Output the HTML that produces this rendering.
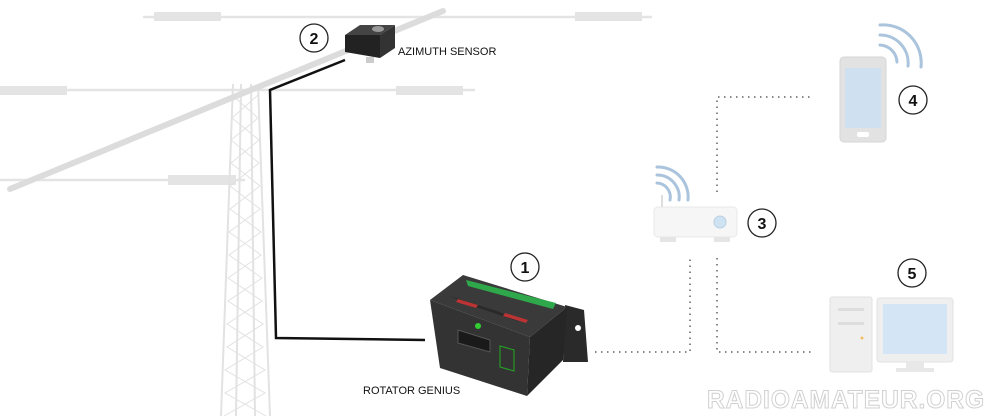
<!DOCTYPE html>
<html><head><meta charset="utf-8"><style>
html,body{margin:0;padding:0;background:#fff;}
svg{display:block;font-family:"Liberation Sans",sans-serif;}
</style></head><body>
<svg width="1000" height="416" viewBox="0 0 1000 416" xmlns="http://www.w3.org/2000/svg">
<!-- antenna elements -->
<g fill="#e4e4e4" stroke="#e4e4e4">
<line x1="143" y1="17" x2="652" y2="17" stroke-width="2.5"/>
<rect x="154" y="12" width="67" height="9" stroke="none"/>
<rect x="575" y="12" width="67" height="9" stroke="none"/>
<line x1="0" y1="90" x2="475" y2="90" stroke-width="2.5"/>
<rect x="0" y="86" width="67" height="9" stroke="none"/>
<rect x="396" y="86" width="67" height="9" stroke="none"/>
<line x1="0" y1="180" x2="245" y2="180" stroke-width="2.5"/>
<rect x="168" y="175" width="68" height="10" stroke="none"/>
</g>
<!-- tower -->
<g stroke="#e2e2e2" stroke-width="2" fill="none">
<line x1="233" y1="84" x2="221" y2="416"/>
<line x1="258" y1="84" x2="270" y2="416"/>
<line x1="241" y1="84" x2="236" y2="416"/>
<line x1="251" y1="84" x2="255" y2="416"/>
<path d="M232,95 L258,118 L231,140 L259,163 L230,186 L260,209 L229,232 L261,255 L228,278 L262,301 L227,324 L263,347 L225,370 L265,393 L224,416" stroke-width="1"/>
<path d="M258,95 L232,118 L259,140 L231,163 L260,186 L230,209 L261,232 L229,255 L262,278 L228,301 L263,324 L227,347 L265,370 L225,393 L266,416" stroke-width="1"/>
</g>
<!-- boom -->
<line x1="10" y1="189" x2="443" y2="11" stroke="#dcdcdc" stroke-width="6" stroke-linecap="round"/>
<!-- cable -->
<path d="M345,60 L270,90 L276,338 L425,340" fill="none" stroke="#111" stroke-width="2.5"/>
<!-- azimuth sensor -->
<polygon points="345,35 360,25 395,25 380,35" fill="#444"/>
<polygon points="345,35 380,35 380,58 345,52" fill="#222"/>
<polygon points="380,35 395,25 395,48 380,58" fill="#333"/>
<ellipse cx="378" cy="29" rx="6" ry="3" fill="#999"/>
<rect x="366" y="57" width="8" height="6" fill="#ccc"/>
<circle cx="314" cy="38" r="14" fill="#fff" stroke="#222" stroke-width="1.3"/>
<text x="314" y="44" font-size="16" font-weight="bold" text-anchor="middle" fill="#111">2</text>
<text x="398" y="55" font-size="11" fill="#111">AZIMUTH SENSOR</text>
<!-- rotator genius -->
<polygon points="565,305 584,310 588,362 563,362" fill="#2a2a2a"/>
<circle cx="578" cy="328" r="3" fill="#fff"/>
<polygon points="430,300 463,275 567,307 530,337" fill="#3a3a3a"/>
<polygon points="466,280 468,286 553,309 556,303" fill="#2ea84a"/>
<polygon points="450,296 500,312 520,322 470,305" fill="#2a2a2a"/>
<polygon points="458,299 478,305 476,308 456,302" fill="#b33"/>
<polygon points="505,313 528,320 526,323 503,316" fill="#b33"/>
<polygon points="430,300 530,337 527,396 440,368" fill="#333"/>
<polygon points="530,337 567,307 563,360 527,396" fill="#262626"/>
<circle cx="478" cy="326" r="3" fill="#3c3"/>
<polygon points="458,330 490,340 490,352 458,343" fill="#1a1a1a" stroke="#555"/>
<polygon points="500,346 514,350 514,371 500,367" fill="none" stroke="#2a2" stroke-width="1"/>
<circle cx="525" cy="267" r="14" fill="#fff" stroke="#222" stroke-width="1.3"/>
<text x="525" y="273" font-size="16" font-weight="bold" text-anchor="middle" fill="#111">1</text>
<text x="363" y="394" font-size="11" fill="#111">ROTATOR GENIUS</text>
<!-- dotted connectors -->
<g stroke="#888" stroke-width="2" stroke-dasharray="1.5,4.5" fill="none">
<path d="M717,192 L717,97 L812,97"/>
<path d="M595,352 L690,352 L690,258"/>
<path d="M717,258 L717,352 L812,352"/>
</g>
<!-- router -->
<g fill="none" stroke="#a9c4dc" stroke-width="3" stroke-linecap="round">
<path d="M657,183 A14,14 0 0 1 670,200"/>
<path d="M657,175 A22,22 0 0 1 679,200"/>
<path d="M657,167 A30,30 0 0 1 688,200"/>
</g>
<line x1="662" y1="195" x2="662" y2="207" stroke="#ddd" stroke-width="2"/>
<rect x="654" y="207" width="83" height="30" rx="4" fill="#f6f6f6" stroke="#e8e8e8"/>
<circle cx="720" cy="222" r="6" fill="#cfe2f2" stroke="#b9cfe3"/>
<rect x="660" y="237" width="16" height="5" fill="#e5e5e5"/>
<rect x="714" y="237" width="16" height="5" fill="#e5e5e5"/>
<circle cx="762" cy="223" r="14" fill="#fff" stroke="#222" stroke-width="1.3"/>
<text x="762" y="229" font-size="16" font-weight="bold" text-anchor="middle" fill="#111">3</text>
<!-- phone -->
<g fill="none" stroke="#a9c4dc" stroke-width="3" stroke-linecap="round">
<path d="M880,45 A18,18 0 0 1 897,62"/>
<path d="M880,35 A28,28 0 0 1 908,66"/>
<path d="M880,25 A38,38 0 0 1 921,67"/>
</g>
<rect x="840" y="57" width="46" height="85" rx="4" fill="#e2e2e2" stroke="#d5d5d5"/>
<rect x="845" y="68" width="36" height="60" fill="#cfe0f0"/>
<rect x="857" y="132" width="12" height="5" rx="2" fill="#fff"/>
<circle cx="913" cy="100" r="14" fill="#fff" stroke="#222" stroke-width="1.3"/>
<text x="913" y="106" font-size="16" font-weight="bold" text-anchor="middle" fill="#111">4</text>
<!-- computer -->
<rect x="830" y="297" width="42" height="75" rx="2" fill="#efefef" stroke="#e2e2e2"/>
<rect x="838" y="308" width="26" height="3" fill="#ddd"/>
<rect x="838" y="322" width="26" height="3" fill="#ddd"/>
<circle cx="862" cy="338" r="1.5" fill="#f0c060"/>
<rect x="877" y="298" width="76" height="64" rx="3" fill="#efefef" stroke="#e2e2e2"/>
<rect x="883" y="304" width="64" height="50" fill="#d4e6f5"/>
<rect x="906" y="362" width="18" height="6" fill="#e8e8e8"/>
<rect x="896" y="368" width="38" height="4" fill="#e8e8e8"/>
<circle cx="912" cy="273" r="14" fill="#fff" stroke="#222" stroke-width="1.3"/>
<text x="912" y="279" font-size="16" font-weight="bold" text-anchor="middle" fill="#111">5</text>
<!-- watermark -->
<text x="846" y="408" font-size="25" font-weight="bold" text-anchor="middle" fill="#fff" stroke="#d0d0d0" stroke-width="1" letter-spacing="1" textLength="278" lengthAdjust="spacingAndGlyphs">RADIOAMATEUR.ORG</text>
</svg>
</body></html>
